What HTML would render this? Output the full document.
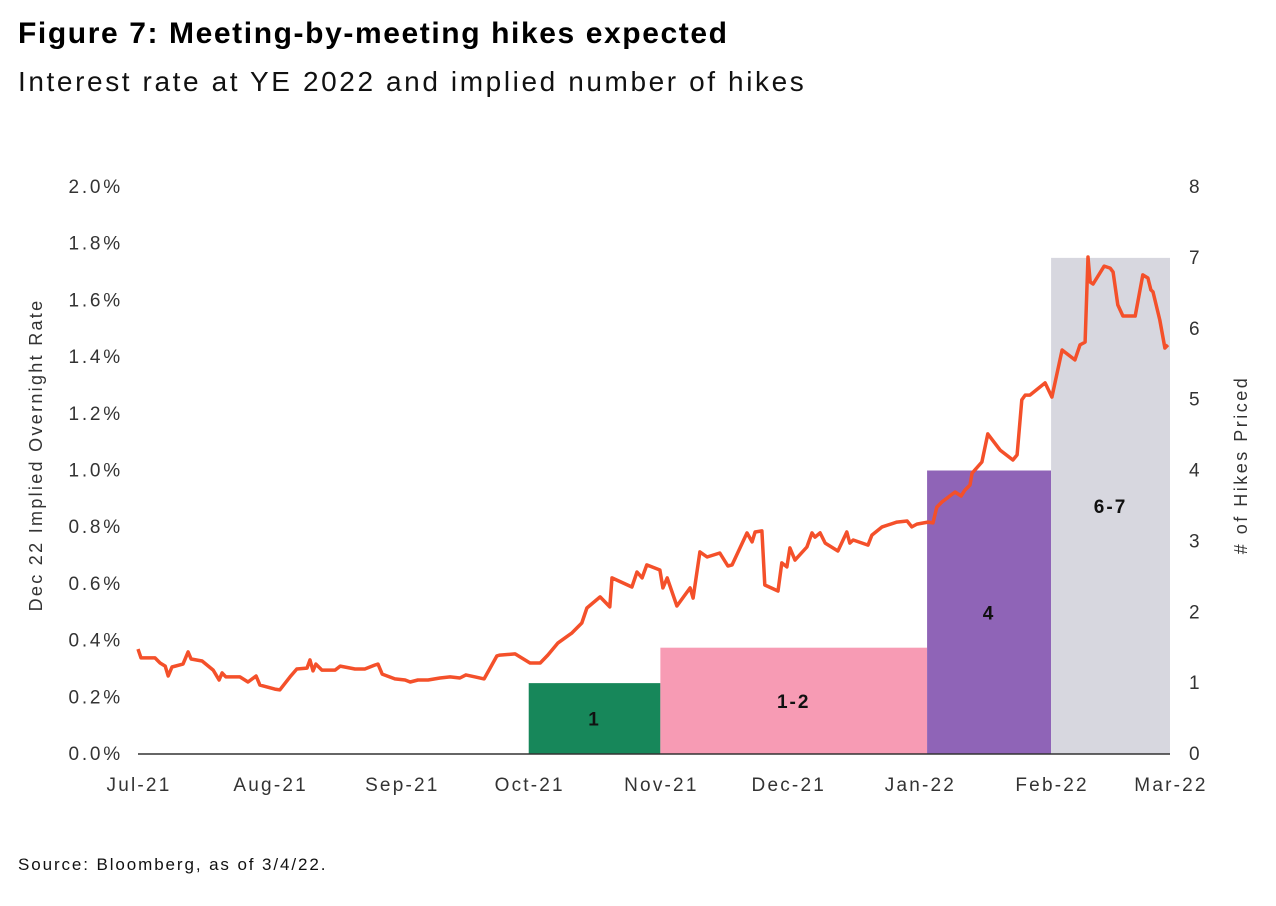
<!DOCTYPE html>
<html><head><meta charset="utf-8"><style>
body{margin:0;background:#fff;width:1276px;height:906px;overflow:hidden;font-family:"Liberation Sans",sans-serif}
svg text{font-family:"Liberation Sans",sans-serif}
</style></head><body>
<div style="position:absolute;left:18px;top:17px;font-size:30px;font-weight:900;color:#000;letter-spacing:1.6px;white-space:nowrap">Figure 7: Meeting-by-meeting hikes expected</div>
<div style="position:absolute;left:18px;top:66px;font-size:28px;color:#111;letter-spacing:2.6px;white-space:nowrap">Interest rate at YE 2022 and implied number of hikes</div>
<div style="position:absolute;left:18px;top:855px;font-size:17px;color:#111;letter-spacing:1.9px;white-space:nowrap">Source: Bloomberg, as of 3/4/22.</div>
<svg id="chart" width="1276" height="906" style="position:absolute;left:0;top:0"></svg>
<script>
const monthLabels=["Jul-21","Aug-21","Sep-21","Oct-21","Nov-21","Dec-21","Jan-22","Feb-22","Mar-22"];
const monthDays=[0,31,62,92,123,153,184,215,243];
const leftTicks=[0,0.2,0.4,0.6,0.8,1.0,1.2,1.4,1.6,1.8,2.0];
const rightTicks=[0,1,2,3,4,5,6,7,8];
const barStarts=[92,123,185.8,215];
const barEnds=[123,185.8,215,243];
const barHikes=[1,1.5,4,7];
const barLabels=["1","1-2","4","6-7"];
const barColors=["#17875a","#f79bb4","#8f64b7","#d7d7df"];
const lineDays=[0,0.7,4.0,5.2,6.4,7.1,8.0,10.6,11.8,12.5,15.1,17.7,19.1,19.8,20.7,24.0,25.9,27.8,28.7,32.2,33.4,35.8,37.4,39.8,40.5,41.2,41.9,43.3,46.4,47.6,51.1,53.4,55.8,56.5,57.5,60.5,62.9,64.1,65.9,68.3,71.1,73.5,75.8,77.2,79.4,81.5,82.9,84.5,85.2,88.8,92.3,94.7,96.5,98.9,102.2,104.5,105.7,108.8,111.1,111.6,116.3,117.5,118.7,119.8,122.9,123.6,124.6,126.9,130.0,130.7,132.3,134.0,137.0,138.9,139.9,143.4,144.6,145.3,146.9,147.6,150.7,151.6,152.8,153.5,154.7,157.5,158.7,159.4,160.6,161.8,164.8,166.9,167.6,168.4,171.9,172.8,175.2,178.7,181.1,182.2,183.4,186.0,187.2,188.1,189.3,192.4,193.8,194.7,195.9,196.4,198.7,200.1,203.0,206.0,207.0,208.1,208.9,210.0,213.6,215.2,217.6,220.6,221.8,223.0,223.7,224.2,224.9,227.5,228.9,229.6,230.7,231.9,234.8,236.6,237.8,238.5,239.0,240.6,241.8,242.5];
const lineRates=[.370,.339,.339,.321,.310,.275,.307,.317,.360,.335,.328,.296,.261,.286,.272,.272,.254,.275,.243,.229,.226,.272,.300,.303,.332,.293,.317,.296,.296,.310,.300,.300,.314,.317,.282,.265,.261,.254,.261,.261,.268,.272,.268,.279,.272,.265,.303,.346,.349,.353,.321,.321,.349,.392,.427,.462,.515,.554,.519,.621,.589,.642,.621,.667,.649,.586,.621,.522,.586,.550,.713,.695,.709,.663,.667,.780,.748,.783,.787,.596,.575,.674,.660,.727,.684,.730,.780,.765,.780,.744,.716,.783,.744,.755,.737,.772,.801,.818,.822,.801,.811,.818,.815,.871,.889,.924,.910,.931,.949,.991,1.030,1.129,1.072,1.037,1.055,1.249,1.266,1.266,1.309,1.259,1.425,1.390,1.443,1.453,1.753,1.665,1.658,1.721,1.714,1.700,1.584,1.545,1.545,1.690,1.679,1.637,1.630,1.531,1.432,1.443];

const X0=138,X1=1170,Y0=754,Y1=187;
const xs=d=>X0+(X1-X0)*d/243;
const yl=v=>Y0-(Y0-Y1)*v/2.0;
const yr=v=>Y0-(Y0-Y1)*v/8;
const svg=document.getElementById('chart');
const NS='http://www.w3.org/2000/svg';
function mk(tag,attrs,parent){const e=document.createElementNS(NS,tag);for(const k in attrs)e.setAttribute(k,attrs[k]);(parent||svg).appendChild(e);return e;}

barHikes.forEach((h,i)=>{
  const r=mk('rect',{x:xs(barStarts[i]),y:yr(h),width:xs(barEnds[i])-xs(barStarts[i]),height:Y0-yr(h),fill:barColors[i]});
  
  
  const t=mk('text',{x:(xs(barStarts[i])+xs(barEnds[i]))/2,y:(yr(h)+Y0)/2+7,'text-anchor':'middle','font-size':'19','font-weight':'bold',fill:'#111','letter-spacing':'2'});
  t.textContent=barLabels[i];
  
  
});
const ax=mk('line',{x1:X0,x2:X1,y1:Y0,y2:Y0,stroke:'#333','stroke-width':1.5});



let d='';
lineDays.forEach((dd,i)=>{d+=(i?'L':'M')+xs(dd).toFixed(1)+','+yl(lineRates[i]).toFixed(1);});
const p=mk('path',{d:d,fill:'none',stroke:'#f4502a','stroke-width':3.5,'stroke-linejoin':'round'});



leftTicks.forEach(v=>{
  const t=mk('text',{x:123,y:yl(v)+6,'text-anchor':'end','font-size':'19',fill:'#333','letter-spacing':'2.8'});
  t.textContent=v.toFixed(1)+'%';
  
  
});
rightTicks.forEach(v=>{
  const t=mk('text',{x:1189,y:yr(v)+6,'font-size':'19',fill:'#333'});
  t.textContent=v;
  
  
});
monthLabels.forEach((m,i)=>{
  const t=mk('text',{x:xs(monthDays[i])+1,y:791,'text-anchor':'middle','font-size':'19',fill:'#333','letter-spacing':'2.2'});
  t.textContent=m;
  
  
});
const lt=mk('text',{x:0,y:0,'text-anchor':'middle','font-size':'18',fill:'#333','letter-spacing':'2.3',transform:'translate(42,455) rotate(-90)'});
lt.textContent='Dec 22 Implied Overnight Rate';


const rt=mk('text',{x:0,y:0,'text-anchor':'middle','font-size':'18',fill:'#333','letter-spacing':'2.5',transform:'translate(1247,465) rotate(-90)'});
rt.textContent='# of Hikes Priced';


</script>
</body></html>
